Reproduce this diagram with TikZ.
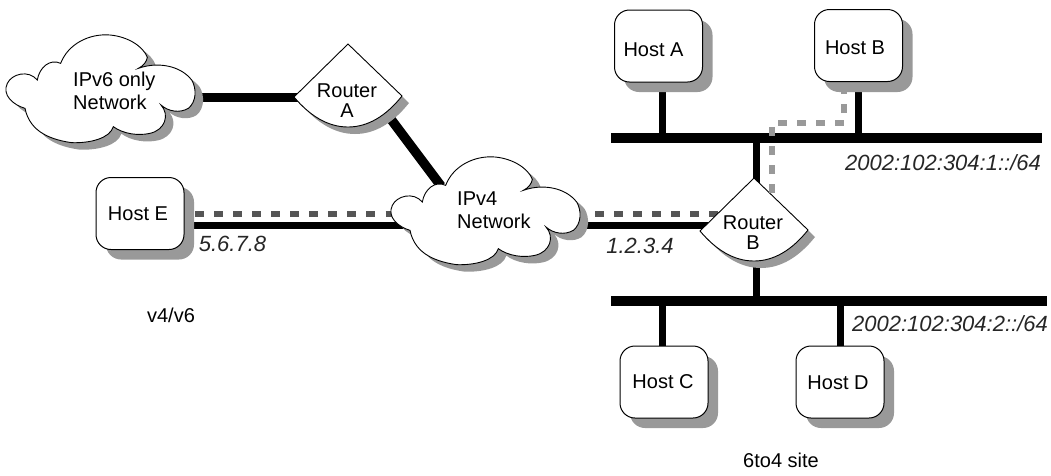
\documentclass[tikz,border=0pt]{standalone}
\usepackage{fontspec}
\setmainfont{Liberation Sans}
\usetikzlibrary{backgrounds}
\definecolor{cloudshade}{RGB}{153,153,153}
\definecolor{darkdash}{HTML}{555555}
\definecolor{lightdash}{HTML}{999999}
\newcommand{\cloudoutline}{(22,160) .. controls (35,132) and (85,118) .. (112,150)
  .. controls (118,112) and (150,85) .. (182,100)
  .. controls (205,40) and (270,10) .. (330,15)
  .. controls (385,20) and (430,50) .. (442,82)
  .. controls (440,95) and (430,108) .. (415,115)
  .. controls (470,95) and (540,105) .. (575,150)
  .. controls (590,175) and (590,215) .. (565,235)
  .. controls (540,250) and (505,245) .. (483,225)
  .. controls (510,255) and (495,300) .. (450,310)
  .. controls (415,318) and (370,312) .. (340,290)
  .. controls (330,325) and (270,340) .. (215,338)
  .. controls (160,330) and (90,310) .. (75,235)
  .. controls (40,225) and (5,195) .. (22,160) -- cycle}
\newcommand{\routeroutline}{(0,0) -- (54,52) .. controls (38,72) and (20,83) .. (0,83)
  .. controls (-20,83) and (-38,72) .. (-54,53) -- cycle}
\tikzset{
  x=1pt,y=-1pt,
  every node/.style={font=\fontsize{20}{23}\selectfont,inner sep=0pt},
  hostbox/.style={draw=black,line width=1pt,fill=white,rounded corners=15pt,
    minimum width=88pt,minimum height=72pt},
  hostshade/.style={fill=cloudshade,draw=none,rounded corners=15pt},
  shapeline/.style={draw=black,line width=0.9pt,fill=white},
  shapeshade/.style={fill=cloudshade,draw=none},
  buswire/.style={draw=black,line width=10pt},
  stub/.style={draw=black,line width=7pt},
  thickwire/.style={draw=black,line width=9.5pt},
  darkpath/.style={draw=darkdash,line width=6pt,dash pattern=on 9pt off 10.05pt},
  lightpath/.style={draw=lightdash,line width=6pt,dash pattern=on 9pt off 10pt},
  addr/.style={font=\fontsize{22}{24}\selectfont\itshape,text=black!85},
  plain/.style={align=left},
  rtext/.style={align=center,font=\fontsize{20}{20}\selectfont},
}
\begin{document}
\begin{tikzpicture}
\useasboundingbox (0,0) rectangle (1051,475);
% clouds
\begin{scope}[shift={(8,37)},scale=1/3] \path[shapeshade] \cloudoutline; \end{scope}
\begin{scope}[shift={(0,30)},scale=1/3] \path[shapeline] \cloudoutline; \end{scope}
\begin{scope}[shift={(393,159)},scale=1/3] \path[shapeshade] \cloudoutline; \end{scope}
\begin{scope}[shift={(385,152)},scale=1/3] \path[shapeline] \cloudoutline; \end{scope}
\node[plain,anchor=west] (cloudsix) at (73,90.5) {IPv6 only\\Network};
\node[plain,anchor=west] (cloudfour) at (457,210.5) {IPv4\\Network};
% routers
\begin{scope}[shift={(355,51)}] \path[shapeshade] \routeroutline; \end{scope}
\begin{scope}[shift={(348,44)}] \path[shapeline] \routeroutline; \end{scope}
\begin{scope}[shift={(761,185)}] \path[shapeshade] \routeroutline; \end{scope}
\begin{scope}[shift={(754,178)}] \path[shapeline] \routeroutline; \end{scope}
\node[rtext] (routerA) at (347,101) {Router\\A};
\node[rtext] (routerB) at (753,233) {Router\\B};
% host shadows
\path[hostshade] (624,20) rectangle (712.5,92);
\path[hostshade] (824,19) rectangle (912.5,92);
\path[hostshade] (630,356) rectangle (718,428);
\path[hostshade] (806,356) rectangle (894,428);
\path[hostshade] (106,187) rectangle (194,259.5);
% hosts
\node[hostbox,label={[xshift=-5pt,yshift=-4pt]center:Host A}] (hostA) at (658.5,46) {};
\node[hostbox,label={[xshift=-3.5pt,yshift=-2.5pt]center:Host B}] (hostB) at (858.5,45.5) {};
\node[hostbox,label={[xshift=-1pt,yshift=0pt]center:Host C}] (hostC) at (664,382) {};
\node[hostbox,label={[xshift=-2pt,yshift=-1pt]center:Host D}] (hostD) at (840,382) {};
\node[hostbox,label={[xshift=-2pt,yshift=-0.5pt]center:Host E}] (hostE) at (140,213.5) {};
% ports
\coordinate (busAl) at (611,137.5); \coordinate (busAr) at (1042,137.5);
\coordinate (busBl) at (611,300.5); \coordinate (busBr) at (1047,300.5);
\coordinate (tapA) at (662,137.5); \coordinate (tapB) at (858,137.5);
\coordinate (tapR) at (756,137.5); \coordinate (tapRb) at (756,300.5);
\coordinate (tapC) at (662,300.5); \coordinate (tapD) at (840,300.5);
\coordinate (sixE) at (190,97.5); \coordinate (raW) at (300,97.5);
\coordinate (raS) at (390,118); \coordinate (fourN) at (441,186);
\coordinate (hostEr) at (180,225.5); \coordinate (rbW) at (720,225.5);
\coordinate (hostEd) at (195,214); \coordinate (rbD) at (722,214);
\coordinate (rbN) at (756,185); \coordinate (rbS) at (756,250);
\coordinate (lgA) at (772,193); \coordinate (lgB) at (772,123);
\coordinate (lgC) at (844,123); \coordinate (lgD) at (844,90);
\begin{scope}[on background layer]
  \path[stub] (tapA |- hostA.south) ++(0,5) -- (tapA);
  \path[stub] (tapB |- hostB.south) ++(0,5) -- (tapB);
  \path[stub] (rbN) -- (tapR);
  \path[stub] (rbS) -- (tapRb);
  \path[stub] (tapC) -- (tapC |- hostC.north);
  \path[stub] (tapD) -- (tapD |- hostD.north);
  \path[buswire] (busAl) -- (busAr);
  \path[buswire] (busBl) -- (busBr);
  \path[thickwire] (sixE) -- (raW);
  \path[thickwire] (raS) -- (fourN);
  \path[stub] (hostEr) -- (rbW);
  \path[darkpath] (hostEd) -- (rbD);
\end{scope}
\path[lightpath] (lgA) -- (lgB) -- (lgC) -- (lgD);
% labels
\node[addr] (addrE) at (232.5,244) {5.6.7.8};
\node[addr] (addrB) at (640,246) {1.2.3.4};
\node[addr] (netA) at (943,163) {2002:102:304:1::/64};
\node[addr] (netB) at (950,324) {2002:102:304:2::/64};
\node (vv) at (171,315) {v4/v6};
\node (site) at (781,460) {6to4 site};
\end{tikzpicture}
\end{document}
